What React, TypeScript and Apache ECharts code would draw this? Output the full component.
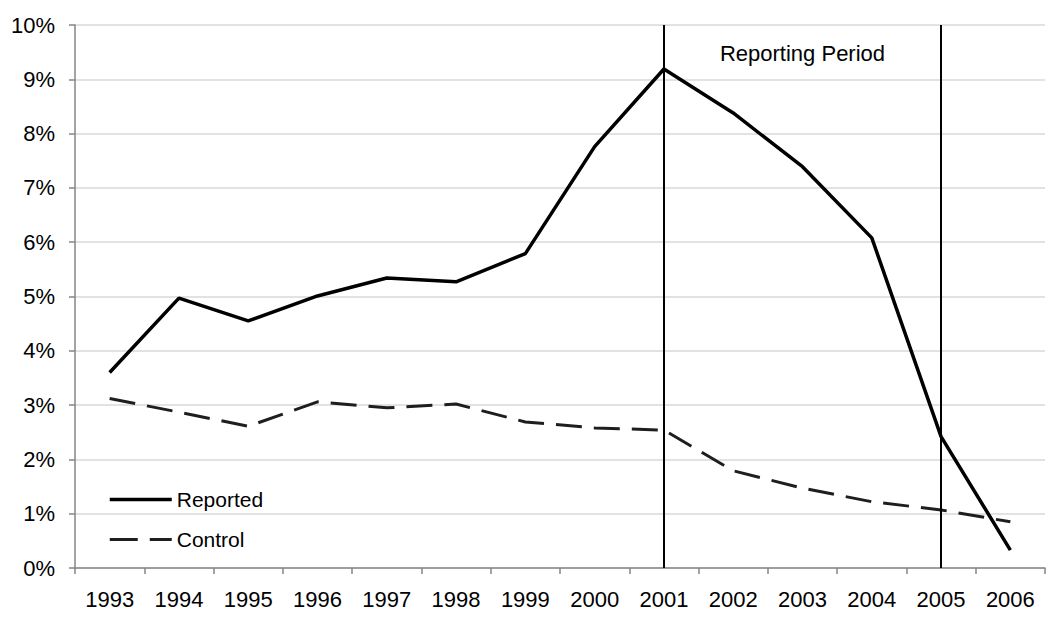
import React, { useEffect, useRef } from "react";
import * as echarts from "echarts";

const years = ["1993", "1994", "1995", "1996", "1997", "1998", "1999", "2000", "2001", "2002", "2003", "2004", "2005", "2006"];
const reported = [3.6, 4.97, 4.55, 5.01, 5.34, 5.27, 5.79, 7.76, 9.19, 8.38, 7.39, 6.08, 2.42, 0.33];
const control = [3.12, 2.87, 2.61, 3.06, 2.95, 3.02, 2.69, 2.58, 2.54, 1.79, 1.47, 1.22, 1.07, 0.85];
const periodStart = "2001";
const periodEnd = "2005";
const periodLabel = "Reporting Period";

const FONT = "Liberation Sans, Arial, Helvetica, sans-serif";

export default function App() {
  const ref = useRef<HTMLDivElement>(null);
  useEffect(() => {
    if (!ref.current) return;
    const chart = echarts.init(ref.current, null, { renderer: "svg" });
    chart.setOption({
      animation: false,
      backgroundColor: "#ffffff",
      textStyle: { fontFamily: FONT },
      grid: { left: 75, top: 25, width: 970, height: 543 },
      legend: {
        orient: "vertical",
        left: 108,
        top: 489,
        padding: 0,
        itemWidth: 62,
        itemHeight: 14,
        itemGap: 19,
        itemStyle: { opacity: 0 },
        textStyle: { fontSize: 21, color: "#000", fontFamily: FONT },
        data: [
          { name: "Reported", lineStyle: { width: 3.5, color: "#000", type: "solid" } },
          { name: "Control", lineStyle: { width: 3, color: "#1e1e1e", type: [28, 12] } },
        ],
      },
      xAxis: {
        type: "category",
        data: years,
        boundaryGap: true,
        axisLine: { lineStyle: { color: "#868686", width: 1.5 } },
        axisTick: { show: true, length: 6, lineStyle: { color: "#868686", width: 1.5 } },
        axisLabel: { fontSize: 22, color: "#000", margin: 20, fontFamily: FONT },
        splitLine: { show: false },
      },
      yAxis: {
        type: "value",
        min: 0,
        max: 10,
        interval: 1,
        axisLine: { show: true, lineStyle: { color: "#868686", width: 1.5 } },
        axisTick: { show: true, length: 6, lineStyle: { color: "#868686", width: 1.5 } },
        axisLabel: { fontSize: 22, color: "#000", margin: 20, formatter: "{value}%", fontFamily: FONT },
        splitLine: { show: true, lineStyle: { color: "#d9d9d9", width: 1.5 } },
      },
      series: [
        {
          name: "Reported",
          type: "line",
          data: reported,
          symbol: "none",
          lineStyle: { color: "#000", width: 3.5 },
          itemStyle: { color: "#000" },
          markLine: {
            silent: true,
            symbol: "none",
            label: { show: false },
            lineStyle: { color: "#000", width: 2, type: "solid" },
            data: [{ xAxis: periodStart }, { xAxis: periodEnd }],
          },
          markArea: {
            silent: true,
            itemStyle: { color: "rgba(0,0,0,0)" },
            label: {
              show: true,
              position: "insideTop",
              distance: 17,
              fontSize: 22,
              color: "#000",
              fontFamily: FONT,
            },
            data: [[{ xAxis: periodStart, name: periodLabel }, { xAxis: periodEnd }]],
          },
          z: 3,
        },
        {
          name: "Control",
          type: "line",
          data: control,
          symbol: "none",
          lineStyle: { color: "#1e1e1e", width: 3, type: [26, 12] },
          itemStyle: { color: "#1e1e1e" },
          z: 2,
        },
      ],
    });
    return () => chart.dispose();
  }, []);
  return (
    <div
      ref={ref}
      style={{ position: "fixed", left: 0, top: 0, width: 1050, height: 629, background: "#fff" }}
    />
  );
}
